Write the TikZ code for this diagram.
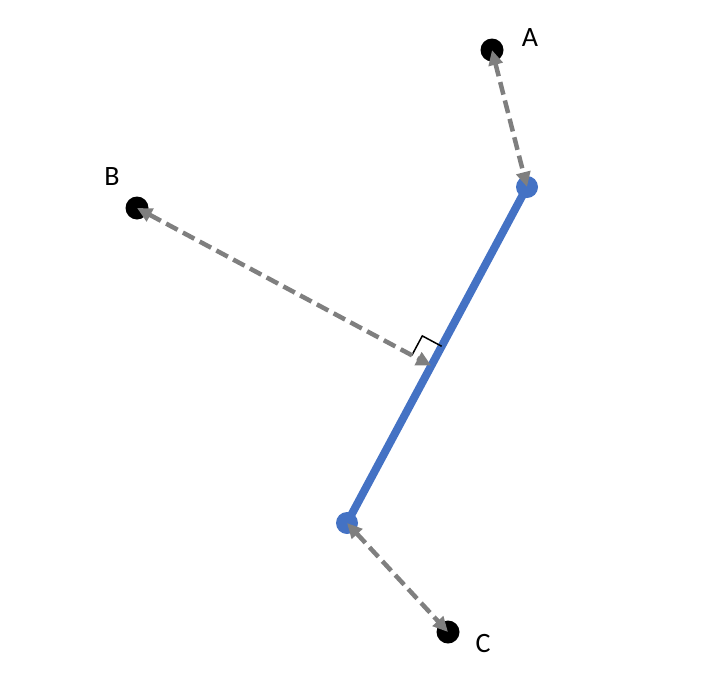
\documentclass[tikz,border=0pt]{standalone}
\usepackage{fontspec}
\setmainfont{Carlito}
\usetikzlibrary{calc,arrows.meta}
\definecolor{segblue}{HTML}{4472C4}
\definecolor{distgray}{HTML}{7F7F7F}
\tikzstyle{point} = [circle, fill=black, inner sep=0pt, minimum size=23pt]
\tikzstyle{endpt} = [circle, fill=segblue, inner sep=0pt, minimum size=22pt]
\tikzstyle{lbl} = [font=\fontsize{28}{32}\selectfont, inner sep=0pt]
\tikzstyle{dist} = [draw=distgray, line width=4.5pt, dash pattern=on 13pt off 6pt,
    {Triangle[length=15pt,width=14pt]}-{Triangle[length=15pt,width=14pt]}]

\begin{document}
\begin{tikzpicture}[x=1pt, y=-1pt]
    \useasboundingbox (0,0) rectangle (726,683);
    % % % % % % % % % % % % % % % % % % % % % % %
    % Segment
    % % % % % % % % % % % % % % % % % % % % % % %
    \coordinate (top) at (527,187);
    \coordinate (bot) at (347,523);
    \draw [segblue, line width=8pt] (top) -- (bot);
    \node [endpt] (P1) at (top) {};
    \node [endpt] (P2) at (bot) {};

    % Points and their labels
    \node [point] (A) at (492,50) {};
    \node [point] (B) at (137,208) {};
    \node [point] (C) at (448,632) {};
    \node [lbl] (lA) at (530,38) {A};
    \node [lbl] (lB) at (112,177) {B};
    \node [lbl] (lC) at (483,644) {C};

    % foot of the perpendicular from B
    \coordinate (F) at ($(P2.center)!(B.center)!(P1.center)$);

    % right angle mark
    \coordinate (m1) at ($(F)!22pt!(B.center)$);
    \coordinate (m2) at ($(F)!22pt!(P1.center)$);
    \coordinate (corner) at ($(m1)+(m2)-(F)$);
    \draw [line width=1.5pt] (m1) -- (corner) -- (m2);

    % distances
    \draw [dist] (A.center) -- (P1.center);
    \draw [dist] (B.center) -- (F);
    \draw [dist] (P2.center) -- (C.center);
\end{tikzpicture}
\end{document}
